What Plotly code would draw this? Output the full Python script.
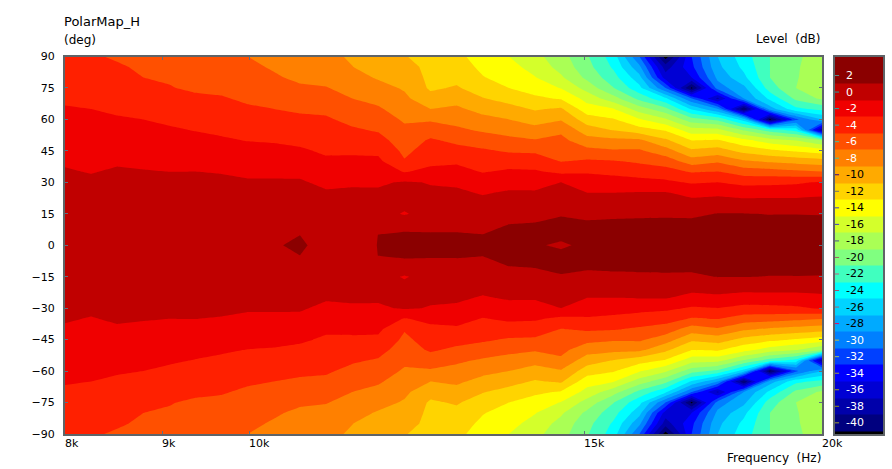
import numpy as np
import plotly.graph_objects as go

freqs = [8000, 8257, 8522, 8795, 9078, 9369, 9670, 9981, 10301, 10632, 10973, 11326, 11689, 12065, 12452,
         12852, 13265, 13691, 14130, 14584, 15052, 15536, 16034, 16549, 17081, 17629, 18195, 18779, 19382, 20000]
angles_up = [0, 5, 10, 15, 20, 25, 30, 35, 40, 45, 50, 55, 60, 65, 70, 75, 80, 85, 90]

# level (dB) per frequency column, for 0..90 deg; the map is mirrored about 0 deg
levels_by_freq = [
 [0.4,0.4,0.3,0.2,0,-0.2,-0.5,-0.85,-1.2,-1.5,-1.9,-2.2,-2.5,-2.9,-3.2,-3.5,-3.9,-4.2,-4.5],
 [0.4,0.4,0.3,0.2,0,-0.3,-0.7,-1.08,-1.4,-1.7,-2,-2.35,-2.65,-3,-3.3,-3.6,-4,-4.3,-4.8],
 [0.5,0.5,0.4,0.3,0.1,-0.2,-0.5,-0.8,-1.2,-1.6,-2,-2.4,-2.85,-3.25,-3.6,-4,-4.35,-4.8,-5.2],
 [0.5,0.5,0.4,0.3,0.1,-0.2,-0.55,-0.9,-1.35,-1.75,-2.15,-2.55,-3,-3.45,-3.97,-4.5,-5,-5.25,-5.5],
 [0.5,0.5,0.4,0.3,0.1,-0.2,-0.6,-1,-1.45,-1.9,-2.35,-2.8,-3.3,-3.8,-4.35,-4.9,-5.2,-5.5,-5.8],
 [0.5,0.5,0.4,0.3,0.1,-0.15,-0.5,-0.98,-1.5,-2,-2.55,-3.07,-3.6,-4.15,-4.65,-5.3,-5.6,-5.85,-6.1],
 [0.6,0.55,0.45,0.35,0.15,-0.1,-0.5,-1.13,-1.7,-2.25,-2.8,-3.3,-3.8,-4.3,-4.85,-5.4,-5.7,-6.05,-6.4],
 [0.7,0.65,0.55,0.4,0.2,-0.2,-0.8,-1.35,-1.9,-2.5,-3.05,-3.6,-4.2,-4.75,-5.3,-5.75,-6.15,-6.6,-7],
 [0.73,0.7,0.6,0.45,0.2,-0.25,-0.8,-1.35,-1.95,-2.55,-3.15,-3.75,-4.3,-5,-5.55,-6.15,-6.75,-7.2,-7.5],
 [1.5,0.98,0.8,0.6,0.2,-0.3,-0.8,-1.4,-2.05,-2.75,-3.4,-4,-4.6,-5.3,-6,-6.7,-7.4,-7.7,-8],
 [-0.2,0.35,0.25,0.1,-0.2,-0.8,-1.4,-2.05,-2.7,-3.25,-3.75,-4.25,-4.75,-5.4,-6.1,-6.9,-7.6,-8.1,-8.6],
 [0.5,0.45,0.3,0.1,-0.1,-0.65,-1.3,-2.03,-2.6,-3.3,-4.03,-4.76,-5.5,-6.25,-7,-7.65,-8.3,-8.97,-9.2],
 [1.03,1.01,0.1,-0.55,-0.6,-0.7,-1.3,-2,-2.6,-3.4,-4.3,-5.2,-6,-6.75,-7.55,-8.35,-9.2,-9.6,-9.9],
 [1.6,1.5,-0.3,-1.1,-0.7,-0.5,-0.8,-3.1,-4.85,-5.4,-6,-6.6,-7.25,-7.95,-8.6,-9.2,-9.7,-10.2,-10.9],
 [1.5,1.2,0.3,-0.55,-0.6,-0.75,-1.1,-2.55,-3.4,-4.2,-4.75,-5.95,-7.25,-9,-10.3,-11.3,-11.5,-11.6,-11.7],
 [1.5,1.15,0.5,0.1,-0.3,-0.7,-1.3,-2.3,-3.3,-4.35,-5.4,-6.65,-7.65,-8.65,-9.7,-10.8,-11.5,-12.1,-12.6],
 [1.4,1.02,0.5,0,-0.5,-1.15,-2,-3.1,-3.92,-4.73,-5.93,-7.28,-8.45,-9.65,-10.9,-11.95,-12.9,-13.4,-13.7],
 [1.7,1.4,1,0.4,-0.2,-0.8,-1.65,-2.65,-3.9,-5.2,-6.5,-7.75,-9,-10.3,-11.7,-13,-13.7,-14.35,-15],
 [1.15,1.3,1.1,0.5,-0.1,-0.8,-1.7,-2.75,-4,-5.3,-6.85,-8.35,-9.8,-11.2,-12.6,-13.9,-14.9,-15.7,-16.4],
 [0.8,1.33,1.3,0.9,0.3,-0.4,-1,-3.42,-5.07,-5.77,-6.47,-7.4,-9.2,-10.7,-13.2,-15.1,-16.7,-17.7,-18.2],
 [1.3,1.35,1.3,0.5,-0.26,-1,-1.95,-3.2,-4.7,-6.4,-8.2,-10.1,-12,-14.2,-15.7,-17.8,-19.5,-20.3,-20.8],
 [1.7,1.6,1.35,0.65,-0.2,-1,-2.2,-3.45,-4.85,-6.75,-8.5,-11.1,-12.8,-14.9,-18.2,-20.9,-22.2,-23.3,-24],
 [1.8,1.65,1.4,0.7,-0.1,-0.9,-2.4,-3.8,-5.3,-6.7,-8.6,-12.2,-14.8,-18,-21.6,-24.4,-26.3,-28.5,-31],
 [1.8,1.65,1.4,0.75,-0.1,-0.85,-2.6,-4.15,-5.9,-8.1,-10.6,-13.2,-16.7,-20.4,-24.6,-31,-36,-38,-42],
 [1.8,1.65,1.4,0.7,-0.3,-1.65,-3.2,-5.15,-8,-10.6,-13,-16.2,-20.2,-25.3,-31,-41.5,-35,-33.5,-33],
 [1.9,1.7,1.4,1.05,-0.15,-1.4,-3,-4.9,-7.25,-10.1,-12.75,-16.4,-21.5,-29,-37.5,-30,-28.5,-27.5,-27],
 [1.9,1.7,1.4,1.05,-0.3,-1.75,-3.6,-5.9,-8.7,-11.6,-14.4,-19.3,-26,-41,-29,-27.5,-25.5,-24.5,-23.9],
 [1.9,1.8,1.5,0.95,-0.25,-1.7,-3.5,-6.1,-9.3,-12.5,-16,-22,-41.5,-28,-24.5,-22,-21,-21,-21],
 [2,1.9,1.6,0.95,-0.25,-1.7,-3.3,-6.5,-9.7,-13.2,-17,-23.8,-31.5,-23.5,-20.5,-19,-19.2,-19.3,-19.5],
 [2,1.9,1.6,0.9,-0.1,-1.5,-2.8,-6.9,-10.1,-14,-19,-38.5,-27,-22.4,-18.6,-17.6,-17.3,-17.4,-17.6],
]

band_labels = [2, 0, -2, -4, -6, -8, -10, -12, -14, -16, -18, -20, -22, -24, -26, -28, -30, -32, -34, -36, -38, -40]
band_colors = ["#000000", "#00007F", "#0000AA", "#0000D4", "#0000FF", "#0040FF", "#0080FF", "#00AAFF", "#00D4FF",
               "#00FFFF", "#40FFBF", "#80FF80", "#AAFF55", "#D4FF2B", "#FFFF00", "#FFD400", "#FFAA00", "#FF8000",
               "#FF5000", "#FF2000", "#F00000", "#C00000", "#8B0000"]
tick_colors = ["#5A8A8A", "#20A0A0", "#20A0A0", "#40A0A0", "#40C0A0", "#40C0A0", "#400080", "#707070", "#4040C0",
               "#4040C0", "#505090", "#A06060", "#C06080", "#A05070", "#A06070", "#F00060", "#C0C040", "#A0C060",
               "#A0A040", "#A0A020", "#909010", "#A0A030"]
x_tick_vals = [8000, 9000, 10000, 15000, 20000]
x_tick_text = ["8k", "9k", "10k", "15k", "20k"]
y_tick_vals = [90, 75, 60, 45, 30, 15, 0, -15, -30, -45, -60, -75, -90]

FONT = "DejaVu Sans"
W, H = 892, 469
TXT = "#000000"
FRAME = "#5F6468"

half = np.array(levels_by_freq).T
z = np.vstack([half[:0:-1], half])
angles = [-a for a in angles_up[:0:-1]] + angles_up

n = len(band_colors)
scale = [[i / (n - 1), c] for i, c in enumerate(band_colors)]

fig = go.Figure()
fig.add_trace(go.Contour(
    x=freqs, y=angles, z=z, xaxis="x", yaxis="y",
    colorscale=scale, showscale=False, autocontour=False,
    contours=dict(start=-41, end=1, size=2, coloring="fill", showlines=False),
    line=dict(width=0, smoothing=0), hoverinfo="skip",
))

edges = [-41.35, -41, -39, -37, -35, -33, -31, -29, -27, -25, -23, -21, -19, -17, -15, -13, -11, -9, -7, -5, -3, -1, 1, 4.3]
centres = [-42] + band_labels[::-1]
fig.add_trace(go.Heatmap(
    x=[0, 1], y=edges, z=[[c] for c in centres], xaxis="x2", yaxis="y2",
    colorscale=scale, zmin=-42, zmax=2, showscale=False, hoverinfo="skip",
))

fig.update_layout(
    width=W, height=H, autosize=False, showlegend=False,
    paper_bgcolor="white", plot_bgcolor="white",
    margin=dict(l=0, r=0, t=0, b=0),
    font=dict(family=FONT, size=11, color=TXT),
    xaxis=dict(type="log", domain=[65 / W, 822 / W], range=[np.log10(8000), np.log10(20000)], automargin=False,
               tickvals=x_tick_vals, showticklabels=False, ticks="inside", ticklen=3, tickcolor="#607080",
               showline=True, linecolor=FRAME, linewidth=2, mirror="ticks", showgrid=False, zeroline=False, anchor="y"),
    yaxis=dict(domain=[1 - 434 / H, 1 - 56.5 / H], range=[-90, 90], tickvals=y_tick_vals, automargin=False,
               ticks="inside", ticklen=3, tickcolor="#607080", showline=True, linecolor=FRAME, linewidth=2,
               mirror="ticks", showgrid=False, zeroline=False, anchor="x", tickfont=dict(size=11, color=TXT),
               ticklabelstandoff=6),
    xaxis2=dict(domain=[835 / W, 883 / W], range=[0, 1], showticklabels=False, ticks="", showgrid=False, automargin=False,
                zeroline=False, showline=True, linecolor=FRAME, linewidth=2, mirror=True, anchor="y2"),
    yaxis2=dict(domain=[1 - 434 / H, 1 - 56.5 / H], range=[-41.35, 4.3], showticklabels=False, ticks="", automargin=False,
                showgrid=False, zeroline=False, showline=True, linecolor=FRAME, linewidth=2, mirror=True, anchor="x2"),
)

annotations = []
for v, t in zip(x_tick_vals, x_tick_text):
    annotations.append(dict(x=np.log10(v), xref="x", y=1 - 443 / H, yref="paper", text=t, showarrow=False,
                            xanchor="left", yanchor="middle", xshift=-2, font=dict(size=11, color=TXT)))
for i, lab in enumerate(band_labels):
    col = "#FFFFFF" if (lab >= -8 or lab <= -30) else "#000000"
    annotations.append(dict(x=0.19, xref="x2", y=lab, yref="y2", text=str(lab), showarrow=False,
                            xanchor="left", yanchor="middle", font=dict(size=11, color=col)))
    fig.add_shape(type="line", xref="x2", yref="y2", x0=0, x1=0.085, y0=lab, y1=lab,
                  line=dict(color=tick_colors[i], width=1))
for text, x, y, anchor, size in [("PolarMap_H", 62, 22, "left", 13), ("(deg)", 62, 40, "left", 12),
                                 ("Level  (dB)", 823, 39, "right", 12), ("Frequency  (Hz)", 823, 458, "right", 12)]:
    annotations.append(dict(x=x / W, xref="paper", y=1 - y / H, yref="paper", text=text.replace("  ", "&nbsp; "),
                            showarrow=False, xanchor=anchor, yanchor="middle",
                            font=dict(size=size, color=TXT)))
fig.update_layout(annotations=annotations)

fig.write_html("out.html", config={"displayModeBar": False}, post_script="document.body.style.margin='0';")
